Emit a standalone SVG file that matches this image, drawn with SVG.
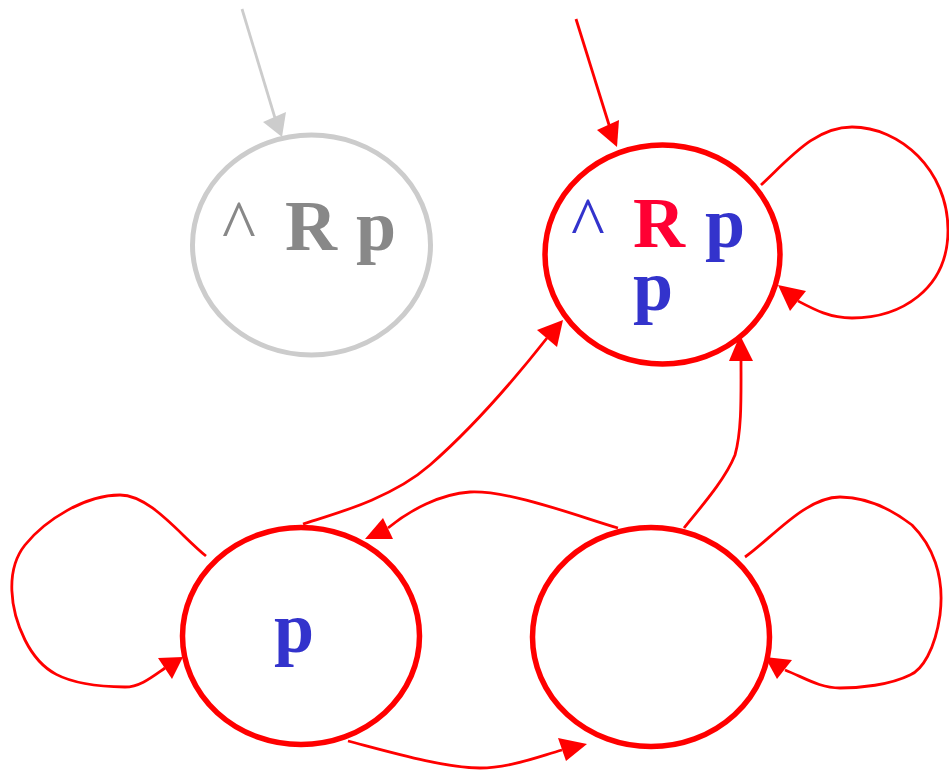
<svg xmlns="http://www.w3.org/2000/svg" width="949" height="772" viewBox="0 0 949 772">
<defs>
<style>
.e{fill:none;stroke:#ff0000;stroke-width:2.8}
.n{fill:#ffffff;stroke:#ff0000;stroke-width:5.5}
.g{fill:#ffffff;stroke:#cccccc;stroke-width:5}
.t{font-family:"Liberation Serif","Times New Roman",serif;font-weight:bold;font-size:72px}
.c{font-family:"Liberation Serif","Times New Roman",serif;font-size:72px}
</style>
</defs>
<g id="edges">
<path d="M242,9 L275,118" fill="none" stroke="#cccccc" stroke-width="2.8"/>
<polygon points="282,137 263,122 286,112" fill="#cccccc"/>
<path class="e" d="M576,19 L610,128"/>
<polygon points="617,147 597,130 619,120" fill="#ff0000"/>
<path class="e" d="M761,185 C790,158 815,127 852,127 C900,127 948,170 948,230 C948,290 900,318 852,318 C830,318 815,310 798,301"/>
<polygon points="778,285 806,291 790,311" fill="#ff0000"/>
<path class="e" d="M206,556 C180,535 150,495 120,495 C85,495 45,520 25,545 C5,570 10,610 25,640 C40,670 60,686 125,687 C140,687 152,677 165,668"/>
<polygon points="183,657 158,658 172,679" fill="#ff0000"/>
<path class="e" d="M745,557 C770,540 805,497 840,497 C870,497 895,512 912,525 C932,545 945,575 940,615 C935,650 922,670 910,675 C890,685 860,688 840,688 C820,688 805,678 785,670"/>
<polygon points="765,657 792,660 777,679" fill="#ff0000"/>
<path class="e" d="M303,524 C330,515 390,500 430,465 C470,430 510,385 547,338"/>
<polygon points="563,320 537,330 557,347" fill="#ff0000"/>
<path class="e" d="M684,528 C700,508 725,480 735,455 C742,430 741,395 741,361"/>
<polygon points="740,335 729,361 753,361" fill="#ff0000"/>
<path class="e" d="M618,528 C580,517 510,490 470,492 C440,494 410,510 388,528"/>
<polygon points="365,539 383,518 393,539" fill="#ff0000"/>
<path class="e" d="M348,741 C390,752 445,768 480,768 C510,768 540,756 562,750"/>
<polygon points="587,744 558,738 566,761" fill="#ff0000"/>
</g>
<g id="node-gray">
<ellipse class="g" cx="311.5" cy="245" rx="119" ry="110"/>
<text class="c" x="222" y="250" fill="#888888">^</text>
<text class="t" x="285" y="250" fill="#888888">R</text>
<text class="t" x="356" y="250" fill="#888888">p</text>
</g>
<g id="node-top">
<ellipse class="n" cx="662.5" cy="254.5" rx="117.5" ry="109.5"/>
<text class="c" x="571" y="247" fill="#3333cc">^</text>
<text class="t" x="633" y="247" fill="#ff0033">R</text>
<text class="t" x="705" y="247" fill="#3333cc">p</text>
<text class="t" x="633" y="310" fill="#3333cc">p</text>
</g>
<g id="node-left">
<ellipse class="n" cx="301" cy="636" rx="118.5" ry="108.5"/>
<text class="t" x="274" y="652" font-size="76" fill="#3333cc">p</text>
</g>
<g id="node-right">
<ellipse class="n" cx="651" cy="637" rx="118.5" ry="109.5"/>
</g>
</svg>
